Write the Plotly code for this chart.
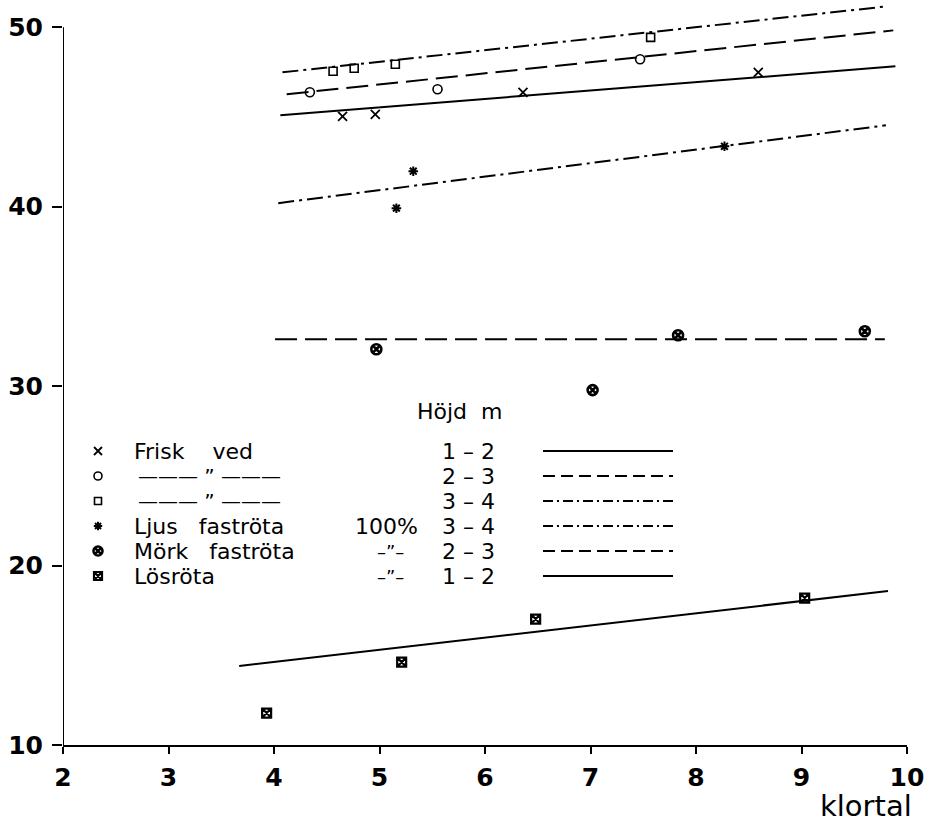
import plotly.graph_objects as go

# ---- data ----
frisk12_x = [4.65, 4.96, 6.36, 8.59]
frisk12_y = [45.04, 45.15, 46.38, 47.49]
frisk23_x = [4.34, 5.55, 7.47]
frisk23_y = [46.38, 46.55, 48.22]
frisk34_x = [4.56, 4.76, 5.15, 7.57]
frisk34_y = [47.55, 47.72, 47.94, 49.44]
ljus_x = [5.16, 5.32, 8.27]
ljus_y = [39.92, 41.98, 43.37]
mork_x = [4.97, 7.02, 7.83, 9.60]
mork_y = [32.06, 29.78, 32.84, 33.06]
los_x = [3.93, 5.21, 6.48, 9.03]
los_y = [11.78, 14.62, 17.02, 18.19]

# fitted lines (end points)
frisk12_line_x = [4.06, 9.89]
frisk12_line_y = [45.10, 47.83]
frisk23_line_x = [4.12, 9.87]
frisk23_line_y = [46.27, 49.83]
frisk34_line_x = [4.08, 9.81]
frisk34_line_y = [47.49, 51.17]
ljus_line_x = [4.04, 9.80]
ljus_line_y = [40.20, 44.54]
mork_line_x = [4.01, 9.79]
mork_line_y = [32.62, 32.62]
los_line_x = [3.67, 9.82]
los_line_y = [14.40, 18.58]

x_ticks = [2, 3, 4, 5, 6, 7, 8, 9, 10]
y_ticks = [10, 20, 30, 40, 50]

legend_labels = ["Frisk    ved", "", "",
                 "Ljus   fastr\u00f6ta", "M\u00f6rk   fastr\u00f6ta", "L\u00f6sr\u00f6ta"]
legend_extra = ["", "\u2014\u2014\u2014 \u201d \u2014\u2014\u2014", "\u2014\u2014\u2014 \u201d \u2014\u2014\u2014",
                "100%", "\u2013\u201d\u2013", "\u2013\u201d\u2013"]
legend_heights = ["1 \u2013 2", "2 \u2013 3", "3 \u2013 4", "3 \u2013 4", "2 \u2013 3", "1 \u2013 2"]
legend_title = "H\u00f6jd  m"
x_title = "klortal"

DASH = "22px,8px"
DASHDOT = "16px,5px,3px,5px"
LEG_DASH = "12px,6px"
LEG_DASHDOT = "10px,4px,2px,4px"

series = [
    dict(x=frisk12_x, y=frisk12_y, lx=frisk12_line_x, ly=frisk12_line_y, sym="x-thin-open", size=9, lw=1.8, dash="solid", ldash="solid"),
    dict(x=frisk23_x, y=frisk23_y, lx=frisk23_line_x, ly=frisk23_line_y, sym="circle-open", size=9, lw=1.6, dash=DASH, ldash=LEG_DASH),
    dict(x=frisk34_x, y=frisk34_y, lx=frisk34_line_x, ly=frisk34_line_y, sym="square-open", size=8, lw=1.6, dash=DASHDOT, ldash=LEG_DASHDOT),
    dict(x=ljus_x, y=ljus_y, lx=ljus_line_x, ly=ljus_line_y, sym="asterisk-open", size=8, lw=2, dash=DASHDOT, ldash=LEG_DASHDOT),
    dict(x=mork_x, y=mork_y, lx=mork_line_x, ly=mork_line_y, sym="circle-x-open", size=10, lw=2.6, dash=DASH, ldash=LEG_DASH),
    dict(x=los_x, y=los_y, lx=los_line_x, ly=los_line_y, sym="square-x-open", size=9, lw=2.2, dash="solid", ldash="solid"),
]

fig = go.Figure()
for s in series:
    fig.add_trace(go.Scatter(x=s["lx"], y=s["ly"], mode="lines",
                             line=dict(color="black", width=2, dash=s["dash"]),
                             showlegend=False, hoverinfo="skip"))
    fig.add_trace(go.Scatter(x=s["x"], y=s["y"], mode="markers",
                             marker=dict(symbol=s["sym"], size=s["size"], color="black",
                                         line=dict(color="black", width=s["lw"])),
                             showlegend=False, cliponaxis=False))

# ---- hand-drawn style legend on a pixel overlay axis ----
row_y = [451, 476, 501, 526, 551, 576]
sym_x = 98
text_x = 132
extra_x = [0, 209, 209, 386, 390, 390]
height_x = 468
sample_x = [543, 673]
LEG_FONT = 22

for i, s in enumerate(series):
    fig.add_trace(go.Scatter(x=[sym_x], y=[row_y[i]], xaxis="x2", yaxis="y2", mode="markers",
                             marker=dict(symbol=s["sym"], size=s["size"] - 1, color="black",
                                         line=dict(color="black", width=s["lw"])),
                             showlegend=False, hoverinfo="skip", cliponaxis=False))
    fig.add_trace(go.Scatter(x=sample_x, y=[row_y[i], row_y[i]], xaxis="x2", yaxis="y2", mode="lines",
                             line=dict(color="black", width=2, dash=s["ldash"]),
                             showlegend=False, hoverinfo="skip"))
    if legend_labels[i]:
        fig.add_annotation(x=text_x, y=row_y[i], xref="x2", yref="y2", text=legend_labels[i],
                           showarrow=False, xanchor="left", yanchor="middle",
                           font=dict(family="DejaVu Sans", size=LEG_FONT, color="black"))
    if legend_extra[i]:
        fsize = LEG_FONT if legend_extra[i] == "100%" else (18 if i >= 4 else 20)
        fig.add_annotation(x=extra_x[i], y=row_y[i], xref="x2", yref="y2", text=legend_extra[i],
                           showarrow=False, xanchor="center", yanchor="middle",
                           font=dict(family="DejaVu Sans", size=fsize, color="black"))
    fig.add_annotation(x=height_x, y=row_y[i], xref="x2", yref="y2", text=legend_heights[i],
                       showarrow=False, xanchor="center", yanchor="middle",
                       font=dict(family="DejaVu Sans", size=LEG_FONT, color="black"))

fig.add_annotation(x=460, y=411, xref="x2", yref="y2", text=legend_title, showarrow=False,
                   xanchor="center", yanchor="middle",
                   font=dict(family="DejaVu Sans", size=LEG_FONT, color="black"))
fig.add_annotation(x=0.951, y=-0.0823, xref="paper", yref="paper", text=x_title, showarrow=False,
                   xanchor="center", yanchor="middle",
                   font=dict(family="DejaVu Sans", size=29, color="black"))

# y axis line from 10 to 50 only
fig.add_shape(type="line", xref="x", yref="y", x0=x_ticks[0], x1=x_ticks[0],
              y0=y_ticks[0], y1=y_ticks[-1], line=dict(color="black", width=2))

fig.update_layout(
    width=941, height=826,
    margin=dict(l=63, r=34, t=4, b=81, autoexpand=False),
    paper_bgcolor="white", plot_bgcolor="white",
    showlegend=False,
    xaxis=dict(range=[2, 10], tickvals=x_ticks, ticks="outside", ticklen=7, tickwidth=2,
               tickcolor="black", showline=True, linewidth=2, linecolor="black",
               showgrid=False, zeroline=False, ticklabelstandoff=2, automargin=False,
               tickfont=dict(family="DejaVu Sans", size=25, color="black", weight="bold")),
    yaxis=dict(range=[10, 51.3], tickvals=y_ticks, ticks="outside", ticklen=10, tickwidth=2,
               tickcolor="black", showline=False, showgrid=False, zeroline=False,
               ticklabelstandoff=4, automargin=False,
               tickfont=dict(family="DejaVu Sans", size=25, color="black", weight="bold")),
    xaxis2=dict(range=[63, 907], overlaying="x", visible=False),
    yaxis2=dict(range=[745, 4], overlaying="y", visible=False),
)

fig.write_html("out.html", config={"displayModeBar": False},
               post_script="document.body.style.margin='0';")
